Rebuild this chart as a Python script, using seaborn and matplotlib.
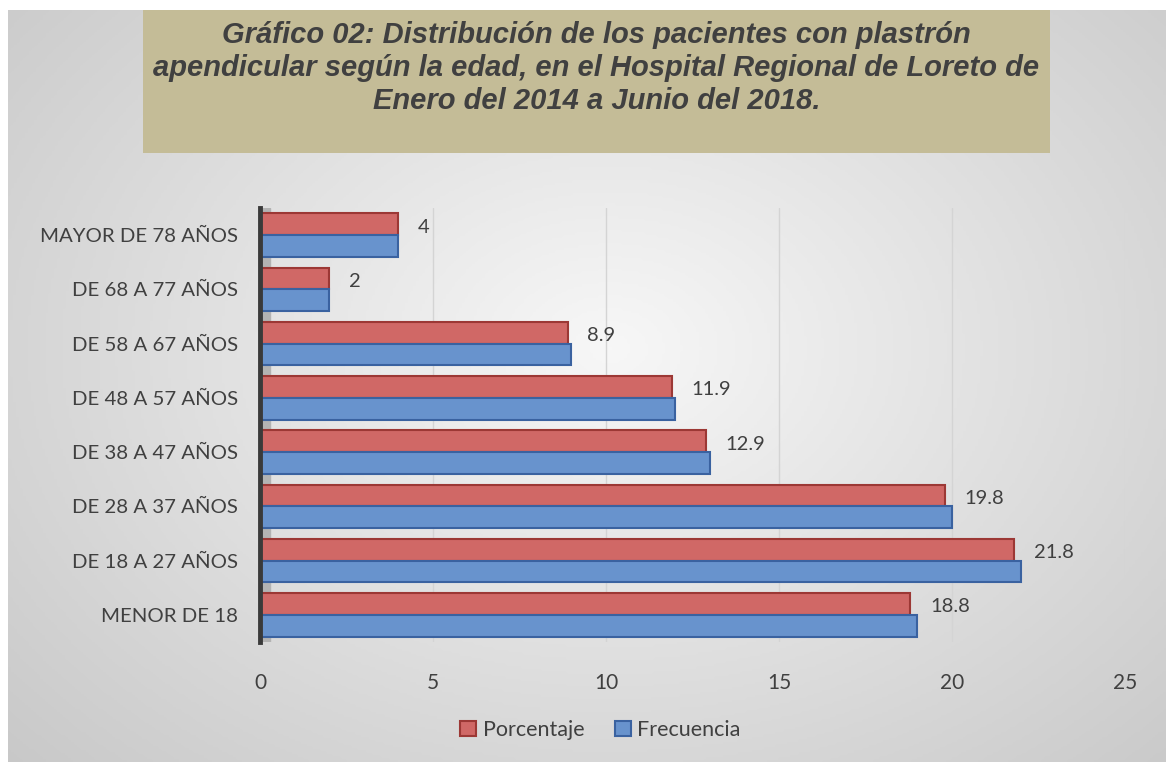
import numpy as np
import pandas as pd
import matplotlib
matplotlib.use("Agg")
import matplotlib.pyplot as plt
import seaborn as sns

# data (top to bottom as in the chart)
grupos = ["MAYOR DE 78 AÑOS", "DE 68 A 77 AÑOS", "DE 58 A 67 AÑOS", "DE 48 A 57 AÑOS",
          "DE 38 A 47 AÑOS", "DE 28 A 37 AÑOS", "DE 18 A 27 AÑOS", "MENOR DE 18"]
porcentaje = [4.0, 2.0, 8.9, 11.9, 12.9, 19.8, 21.8, 18.8]
frecuencia = [4, 2, 9, 12, 13, 20, 22, 19]
etiquetas = ["4", "2", "8.9", "11.9", "12.9", "19.8", "21.8", "18.8"]

df = pd.DataFrame({
    "Grupo": grupos * 2,
    "Valor": porcentaje + frecuencia,
    "Serie": ["Porcentaje"] * len(grupos) + ["Frecuencia"] * len(grupos),
})

sns.set_style("white")
plt.rcParams["font.family"] = ["Lato", "DejaVu Sans"]

fig = plt.figure(figsize=(11.66, 7.62), dpi=100)
fig.patch.set_facecolor("white")

# gray gradient background
bg = fig.add_axes([8 / 1166, 0, 1 - 8 / 1166, 1 - 10 / 762], zorder=-10)
yy, xx = np.mgrid[0:1:300j, 0:1:400j]
r = np.sqrt(((xx - 0.52) / 0.75) ** 2 + ((yy - 0.45) / 0.85) ** 2)
bg.imshow(np.clip(r, 0, 1), cmap=sns.blend_palette(["#f7f7f7", "#c6c6c6"], as_cmap=True),
          aspect="auto", extent=[0, 1, 0, 1], vmin=0, vmax=1)
bg.axis("off")

# title box
tb = fig.add_axes([143 / 1166, 1 - 153 / 762, (1050 - 143) / 1166, 143 / 762])
tb.set_facecolor("#c4bc97")
tb.set_xticks([])
tb.set_yticks([])
for s in tb.spines.values():
    s.set_visible(False)
tb.text(0.5, 0.595,
        "Gráfico 02: Distribución de los pacientes con plastrón\n"
        "apendicular según la edad, en el Hospital Regional de Loreto de\n"
        "Enero del 2014 a Junio del 2018.",
        ha="center", va="center", fontsize=21, fontweight="bold", fontstyle="italic",
        color="#404040", family=["Liberation Sans", "DejaVu Sans"], linespacing=1.22,
        transform=tb.transAxes)

ax = fig.add_axes([260 / 1166, 1 - 642 / 762, (1125 - 260) / 1166, (642 - 208) / 762])
ax.patch.set_alpha(0)

colores = {"Porcentaje": "#d06866", "Frecuencia": "#6893cd"}
bordes = {"Porcentaje": "#9c3835", "Frecuencia": "#3a62a0"}

sns.barplot(data=df, y="Grupo", x="Valor", hue="Serie", order=grupos,
            hue_order=["Porcentaje", "Frecuencia"], palette=colores, saturation=1,
            orient="h", width=0.8, ax=ax, zorder=3)

for cont, serie in zip(ax.containers, ["Porcentaje", "Frecuencia"]):
    for bar in cont:
        bar.set_edgecolor(bordes[serie])
        bar.set_linewidth(1.5)

# data labels on Porcentaje bars
for bar, lab in zip(ax.containers[0], etiquetas):
    ax.annotate(lab, (bar.get_width(), bar.get_y() + bar.get_height() / 2),
                xytext=(14, -2), textcoords="offset points", ha="left", va="center",
                fontsize=14.5, color="#404040")

ax.set_xlim(0, 25)
ax.set_xticks(range(0, 26, 5))
ax.grid(axis="x", color="#d4d4d4", linewidth=1, zorder=0)
ax.axvspan(0, 0.28, color="#b3b3b3", zorder=1)
ax.set_xlabel("")
ax.set_ylabel("")
ax.tick_params(axis="x", length=0, pad=22, labelsize=15, labelcolor="#404040")
ax.tick_params(axis="y", length=0, pad=16, labelsize=14.7, labelcolor="#404040")
for s in ["top", "right", "bottom"]:
    ax.spines[s].set_visible(False)
ax.spines["left"].set_color("#3a3a3a")
ax.spines["left"].set_linewidth(3.5)
ax.spines["left"].set_zorder(5)

leg = ax.legend(loc="center", bbox_to_anchor=(0.515, 1 - 730 / 762), bbox_transform=fig.transFigure,
                ncol=2, frameon=False, fontsize=15.5, handlelength=0.75, handleheight=0.75,
                handletextpad=0.3, columnspacing=1.4)
for t in leg.get_texts():
    t.set_color("#404040")
for h, serie in zip(leg.legend_handles, ["Porcentaje", "Frecuencia"]):
    h.set_edgecolor(bordes[serie])
    h.set_linewidth(1.5)

fig.savefig("out.png", dpi=100)
